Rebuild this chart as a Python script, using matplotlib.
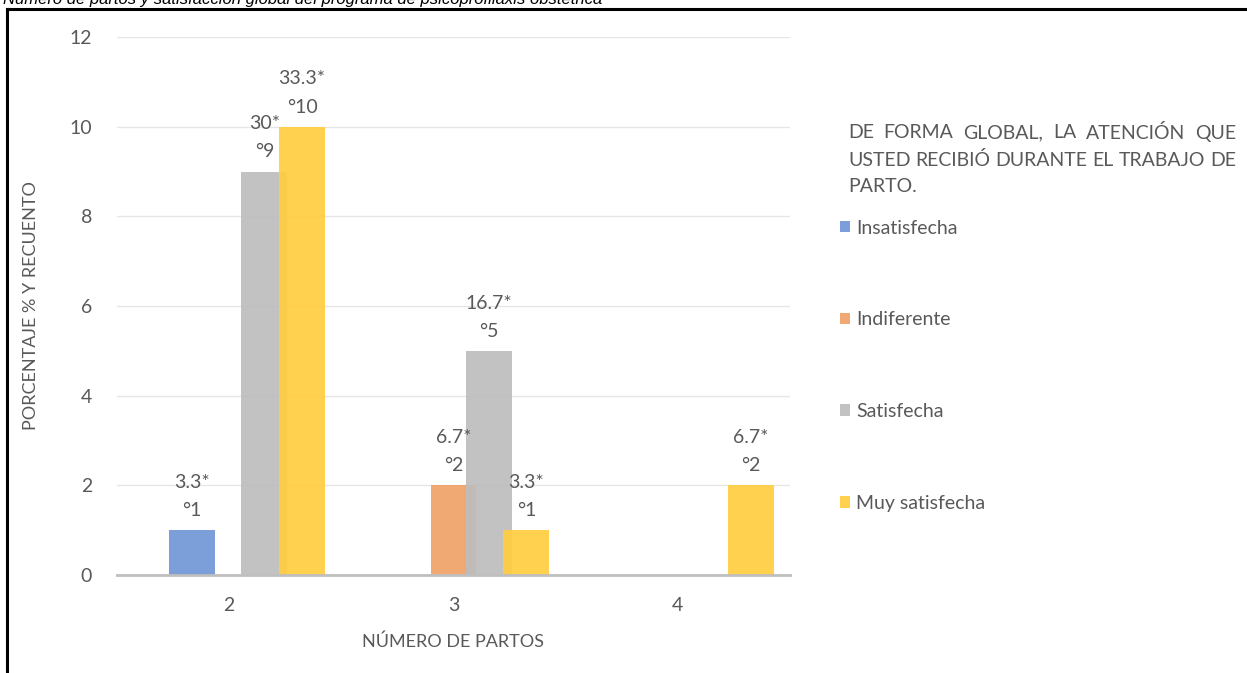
import matplotlib.pyplot as plt
from matplotlib.lines import Line2D
import numpy as np

plt.rcParams['font.family'] = ['Lato', 'DejaVu Sans']

partos = [2, 3, 4]
series = ['Insatisfecha', 'Indiferente', 'Satisfecha', 'Muy satisfecha']
recuento = {
    'Insatisfecha': [1, 0, 0],
    'Indiferente': [0, 2, 0],
    'Satisfecha': [9, 5, 0],
    'Muy satisfecha': [10, 1, 2],
}
porcentaje = {
    'Insatisfecha': ['3.3', '', ''],
    'Indiferente': ['', '6.7', ''],
    'Satisfecha': ['30', '16.7', ''],
    'Muy satisfecha': ['33.3', '3.3', '6.7'],
}
titulo_leyenda = ['DE FORMA GLOBAL, LA ATENCIÓN QUE',
                  'USTED RECIBIÓ DURANTE EL TRABAJO DE',
                  'PARTO.']
colores = ['#7196d6', '#f0a268', '#bdbdbd', '#ffcd40']
offsets = [-0.165, 0.0, 0.157, 0.325]
width = 0.205
txt = '#595959'
W, H = 1247, 673

fig = plt.figure(figsize=(12.47, 6.73), dpi=100)
ax = fig.add_axes([117 / W, 1 - 575 / H, (790 - 117) / W, (575 - 37) / H])

x = np.arange(len(partos))
handles = []
for s, c, off in zip(series, colores, offsets):
    b = ax.bar(x + off, recuento[s], width, color=c, alpha=0.92, label=s, zorder=2)
    handles.append(b)
    for xi, v, p in zip(x, recuento[s], porcentaje[s]):
        if v > 0:
            ax.annotate(f'{p}*\n°{v}', (xi + off, v), xytext=(0, 8),
                        textcoords='offset points', ha='center', va='bottom',
                        fontsize=14, color=txt, linespacing=1.8)

ax.set_xlim(-0.5, 2.5)
ax.set_ylim(0, 12)
ax.set_yticks(range(0, 13, 2))
ax.set_xticks(x)
ax.set_xticklabels([str(p) for p in partos])
ax.tick_params(axis='both', length=0, labelsize=14, colors=txt)
ax.tick_params(axis='y', pad=18)
ax.tick_params(axis='x', pad=16)
ax.grid(axis='y', color='#e6e6e6', linewidth=1, zorder=0)
for sp in ['top', 'right', 'left']:
    ax.spines[sp].set_visible(False)
ax.spines['bottom'].set_color('#bfbfbf')
ax.spines['bottom'].set_linewidth(2)
ax.set_xlabel('NÚMERO DE PARTOS', fontsize=13, color=txt, labelpad=14)
ax.set_ylabel('PORCENTAJE % Y RECUENTO', fontsize=13, color=txt, labelpad=22)

# legend title, justified between x0 and x1 like the original
x0, x1 = 848, 1236
renderer = fig.canvas.get_renderer()
for i, linea in enumerate(titulo_leyenda):
    yy = 1 - (133 + i * 27) / H
    palabras = linea.split(' ')
    if i == len(titulo_leyenda) - 1:
        fig.text(x0 / W, yy, linea, fontsize=14, color=txt, va='center', ha='left')
        continue
    objs = [fig.text(0, yy, p, fontsize=14, color=txt, va='center', ha='left') for p in palabras]
    anchos = [o.get_window_extent(renderer).width for o in objs]
    hueco = ((x1 - x0) - sum(anchos)) / (len(palabras) - 1)
    pos = x0
    for o, a in zip(objs, anchos):
        o.set_x(pos / W)
        pos += a + hueco

leg = fig.legend(handles=handles, labels=series, loc='upper left',
                 bbox_to_anchor=(822 / W, 1 - 202 / H), frameon=False,
                 fontsize=14, labelcolor=txt, handlelength=0.55, handleheight=0.55,
                 handletextpad=0.3, labelspacing=3.85)

fig.text(3 / W, 1 - 4 / H,
         'Número de partos y satisfacción global del programa de psicoprofilaxis obstétrica',
         family='Liberation Sans', style='italic', fontsize=12, color='black', va='baseline')

fig.add_artist(Line2D([7 / W, 1], [1 - 9 / H, 1 - 9 / H], color='black', linewidth=2.2))
fig.add_artist(Line2D([7 / W, 7 / W], [0, 1 - 9 / H], color='black', linewidth=2.2))

fig.savefig('out.png', dpi=100, facecolor='white')
